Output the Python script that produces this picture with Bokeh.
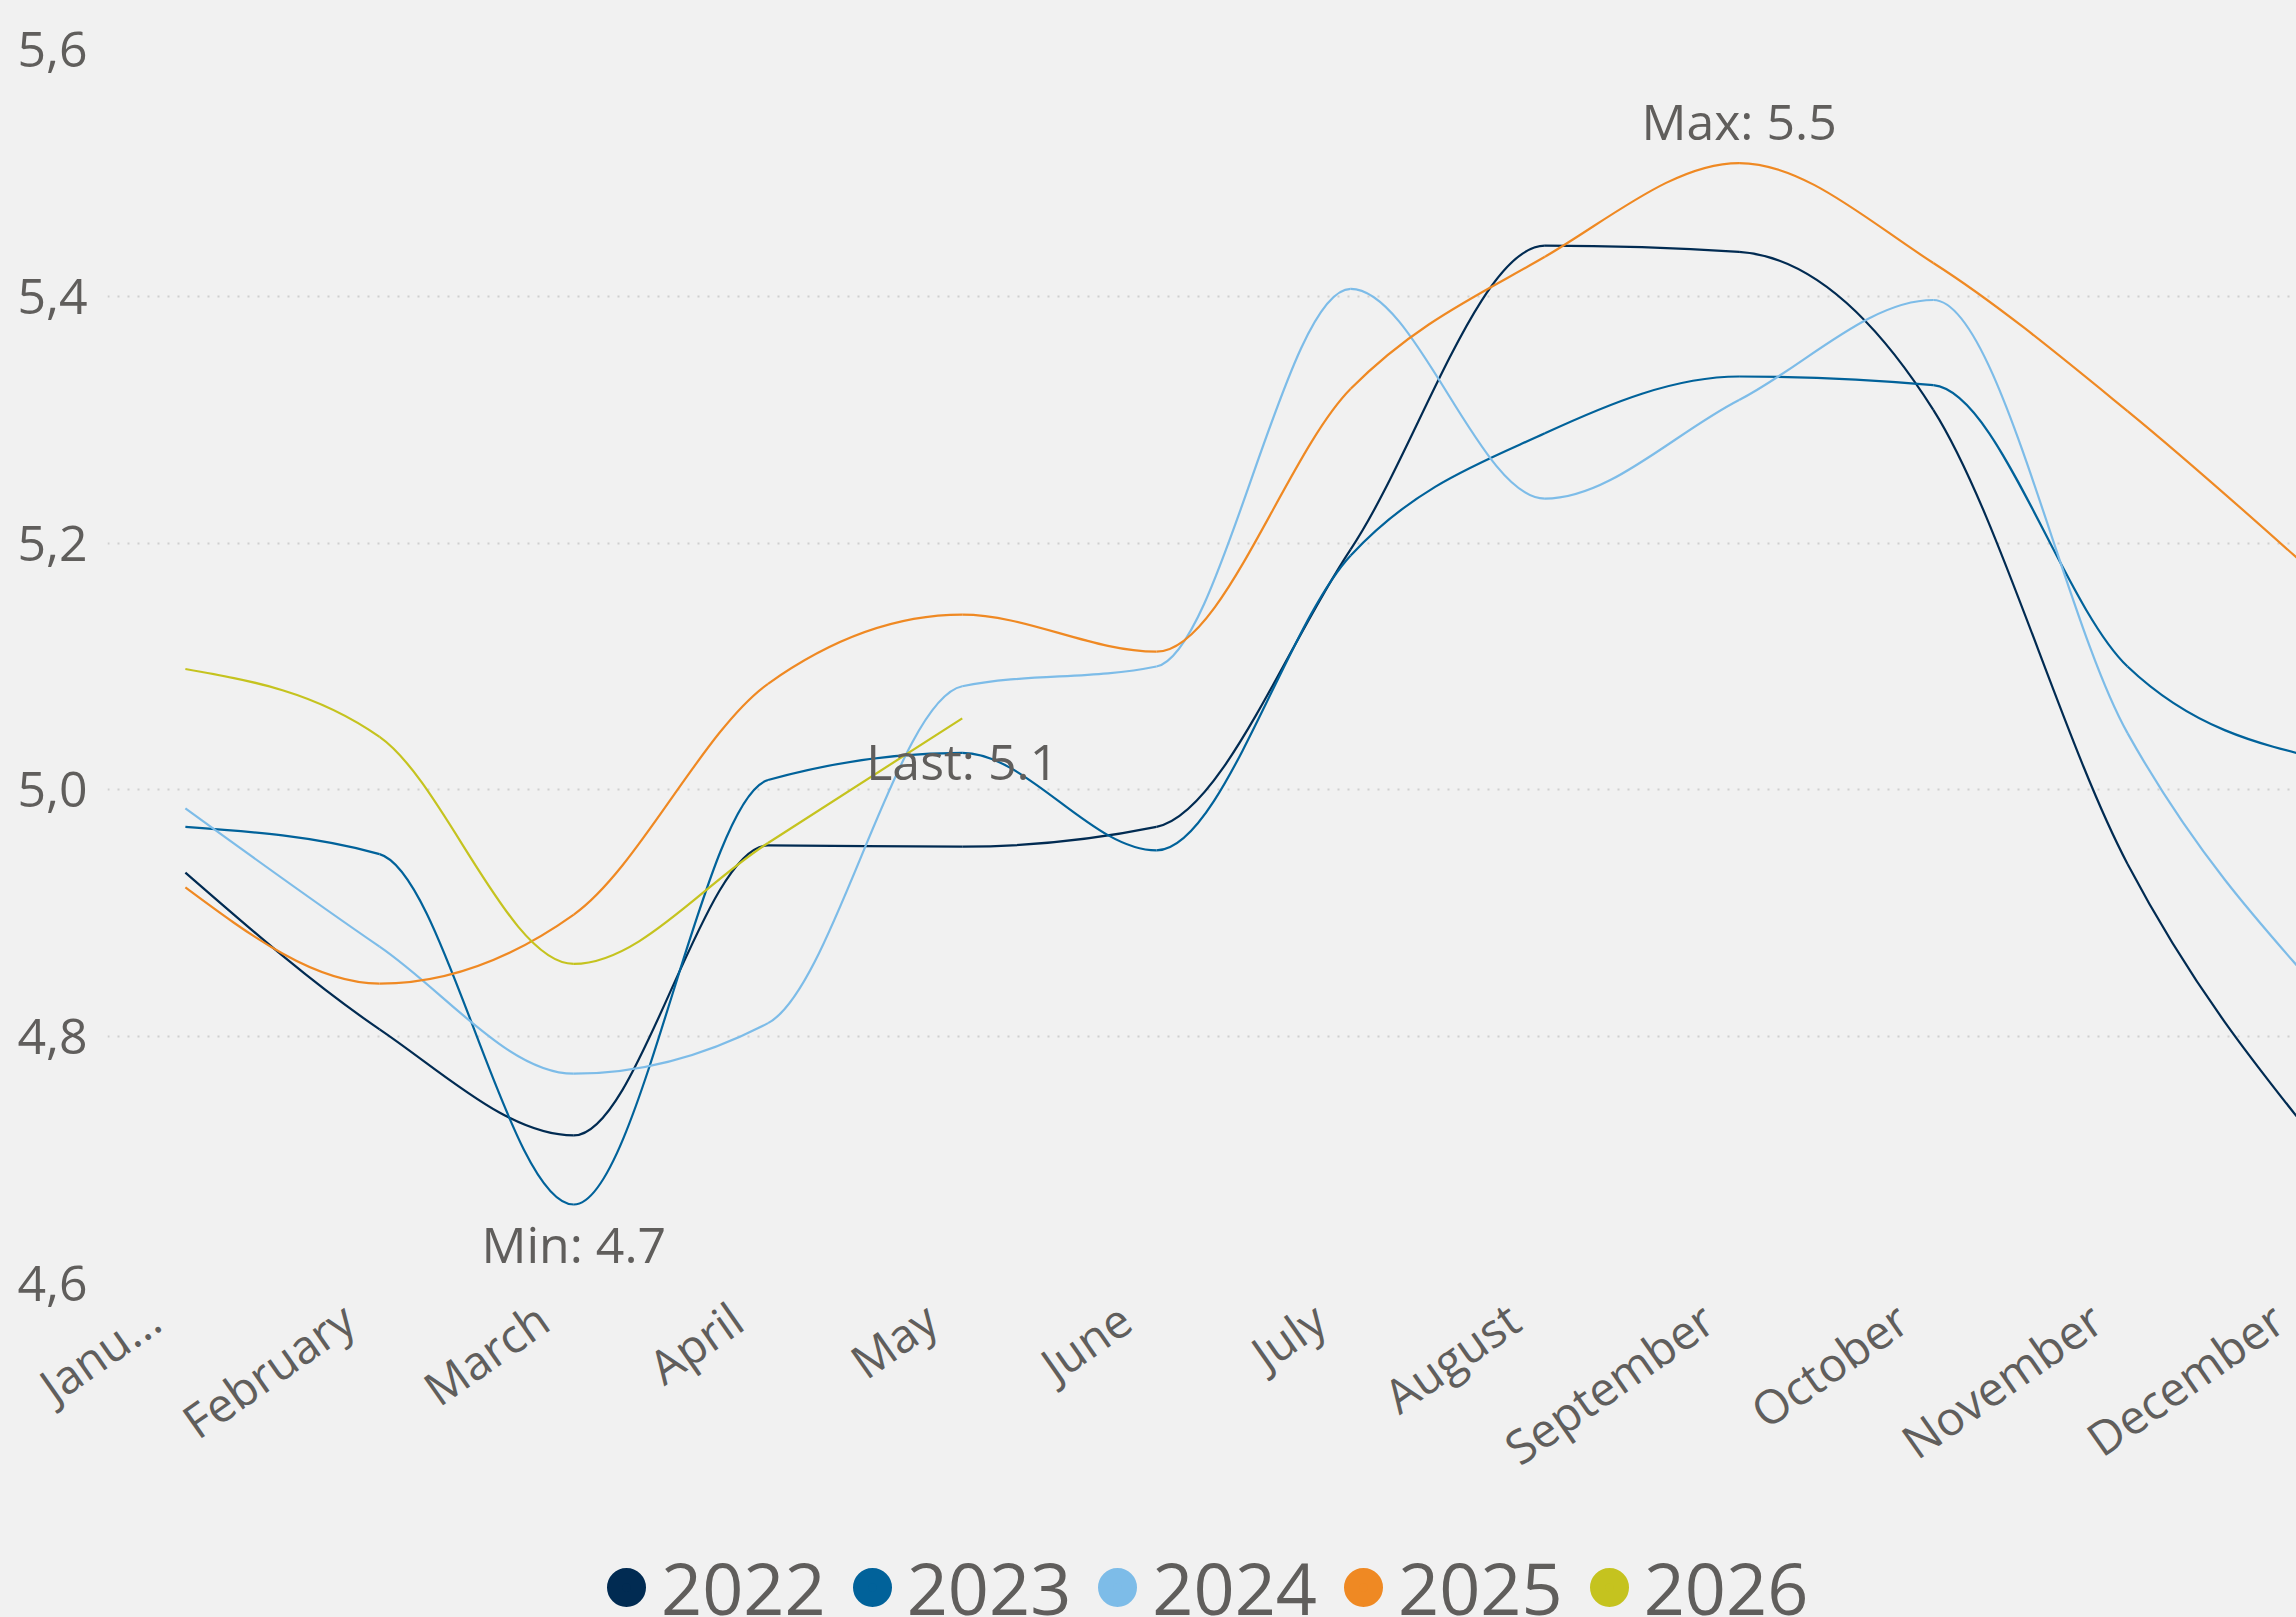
import math
from bokeh.plotting import figure
from bokeh.layouts import column
from bokeh.models import (ColumnDataSource, FixedTicker, Legend, LegendItem, Range1d)
from bokeh.core.properties import value
from bokeh.embed import file_html
from bokeh.resources import INLINE

# ---------------- data ----------------
months = ["Janu...", "February", "March", "April", "May", "June", "July",
          "August", "September", "October", "November", "December"]
years = ["2022", "2023", "2024", "2025", "2026"]

v2022 = [4.933, 4.806, 4.720, 4.955, 4.954, 4.970, 5.195, 5.441, 5.436, 5.308, 4.940, 4.710]
v2023 = [4.970, 4.948, 4.664, 5.008, 5.030, 4.951, 5.190, 5.289, 5.335, 5.328, 5.100, 5.025]
v2024 = [4.985, 4.873, 4.770, 4.811, 5.084, 5.100, 5.406, 5.236, 5.316, 5.397, 5.046, 4.835]
v2025 = [4.921, 4.843, 4.899, 5.086, 5.142, 5.112, 5.325, 5.432, 5.508, 5.427, 5.307, 5.170]
v2026 = [5.098, 5.043, 4.859, 4.957, 5.058]

colors = ["#012B52", "#01629A", "#7DBCE8", "#EF8923", "#C5C31F"]

y_ticks = [4.6, 4.8, 5.0, 5.2, 5.4, 5.6]
y_tick_labels = ["4,6", "4,8", "5,0", "5,2", "5,4", "5,6"]

series = [v2022, v2023, v2024, v2025, v2026]

BG = "#F1F1F1"
TXT = "#605E5C"
FONT = "Open Sans"
W, H_MAIN, H_LEG = 2296, 1535, 82


# d3 curveMonotoneX -> cubic bezier segments
def _sign(v):
    return -1.0 if v < 0 else 1.0


def monotone_bezier(xs, ys):
    n = len(xs)
    t = [0.0] * n
    for i in range(1, n - 1):
        h0 = xs[i] - xs[i - 1]
        h1 = xs[i + 1] - xs[i]
        s0 = (ys[i] - ys[i - 1]) / h0
        s1 = (ys[i + 1] - ys[i]) / h1
        pp = (s0 * h1 + s1 * h0) / (h0 + h1)
        t[i] = (_sign(s0) + _sign(s1)) * min(abs(s0), abs(s1), 0.5 * abs(pp))
    h = xs[1] - xs[0]
    t[0] = (3 * (ys[1] - ys[0]) / h - t[1]) / 2
    h = xs[-1] - xs[-2]
    t[-1] = (3 * (ys[-1] - ys[-2]) / h - t[-2]) / 2
    d = dict(x0=[], y0=[], x1=[], y1=[], cx0=[], cy0=[], cx1=[], cy1=[])
    for i in range(n - 1):
        dx = (xs[i + 1] - xs[i]) / 3.0
        d["x0"].append(xs[i]); d["y0"].append(ys[i])
        d["x1"].append(xs[i + 1]); d["y1"].append(ys[i + 1])
        d["cx0"].append(xs[i] + dx); d["cy0"].append(ys[i] + dx * t[i])
        d["cx1"].append(xs[i + 1] - dx); d["cy1"].append(ys[i + 1] - dx * t[i + 1])
    return d


p = figure(width=W, height=H_MAIN,
           x_range=Range1d(-0.401, 10.87), y_range=Range1d(4.6, 5.6),
           output_backend="svg", toolbar_location=None,
           min_border_left=107, min_border_right=0,
           min_border_top=49, min_border_bottom=252,
           background_fill_alpha=0, border_fill_color=BG,
           outline_line_color=None)

# grid
p.xgrid.grid_line_color = None
p.ygrid.grid_line_color = "#CFCFCF"
p.ygrid.grid_line_dash = "2 8"
p.ygrid.grid_line_width = 2

# axes
for ax in (p.xaxis, p.yaxis):
    ax.axis_line_color = None
    ax.major_tick_line_color = None
    ax.minor_tick_line_color = None
    ax.major_tick_out = 0
    ax.major_tick_in = 0
    ax.major_label_text_font = FONT
    ax.major_label_text_color = TXT

p.yaxis.ticker = FixedTicker(ticks=y_ticks)
p.yaxis.major_label_overrides = {t: l for t, l in zip(y_ticks, y_tick_labels)}
p.yaxis.major_label_standoff = 20
p.yaxis.major_label_text_font_size = "50px"

# rotated month labels end slightly left of their category centre
LABEL_SHIFT = -0.16
x_label_pos = [round(i + LABEL_SHIFT, 4) for i in range(len(months))]
p.xaxis.ticker = FixedTicker(ticks=x_label_pos)
p.xaxis.major_label_overrides = {t: m for t, m in zip(x_label_pos, months)}
p.xaxis.major_label_orientation = math.radians(35)
p.xaxis.major_label_standoff = 30
p.xaxis.major_label_text_font_size = "47px"

# lines
for yr, vals, c in zip(years, series, colors):
    xs = list(range(len(vals)))
    src = ColumnDataSource(monotone_bezier(xs, vals))
    p.bezier(x0="x0", y0="y0", x1="x1", y1="y1", cx0="cx0", cy0="cy0",
             cx1="cx1", cy1="cy1", source=src, line_color=c, line_width=2.2)

# min / max / last labels
all_pts = [(v, i, s) for s, vals in enumerate(series) for i, v in enumerate(vals)]
vmin, imin, _ = min(all_pts)
vmax, imax, _ = max(all_pts)
last_vals = series[-1]
ilast, vlast = len(last_vals) - 1, last_vals[-1]

ann = ColumnDataSource(dict(
    x=[imin, imax, ilast],
    y=[vmin, vmax, vlast],
    text=[f"Min: {vmin:.1f}", f"Max: {vmax:.1f}", f"Last: {vlast:.1f}"],
    yoff=[39, -42, 43],
))
p.text(x="x", y="y", text="text", y_offset="yoff", source=ann,
       text_align="center", text_baseline="alphabetic",
       text_font=value(FONT), text_font_size="50px", text_color=TXT)

# ---------------- legend strip ----------------
pl = figure(width=W, height=H_LEG, x_range=Range1d(0, 1), y_range=Range1d(0, 1),
            output_backend="svg", toolbar_location=None,
            x_axis_location=None, y_axis_location=None,
            min_border_left=0, min_border_right=0, min_border_top=0, min_border_bottom=0,
            background_fill_alpha=0, border_fill_color=BG, outline_line_color=None)
pl.grid.visible = False

items = []
nan = float("nan")
for yr, c in zip(years, colors):
    r = pl.scatter(x=[nan], y=[nan], marker="circle", size=10,
                   fill_color=c, line_color=c, line_width=15)
    items.append(LegendItem(label=yr, renderers=[r]))

legend = Legend(items=items, orientation="horizontal", location=(489, -19),
                glyph_width=60, glyph_height=98, label_standoff=5, spacing=16,
                padding=0, margin=0, border_line_color=None,
                background_fill_alpha=0,
                label_text_font=FONT, label_text_font_size="72px",
                label_text_color=TXT)
pl.add_layout(legend)

layout = column(p, pl, spacing=0, styles={"background-color": BG})
open("out.html", "w").write(file_html(layout, INLINE))
